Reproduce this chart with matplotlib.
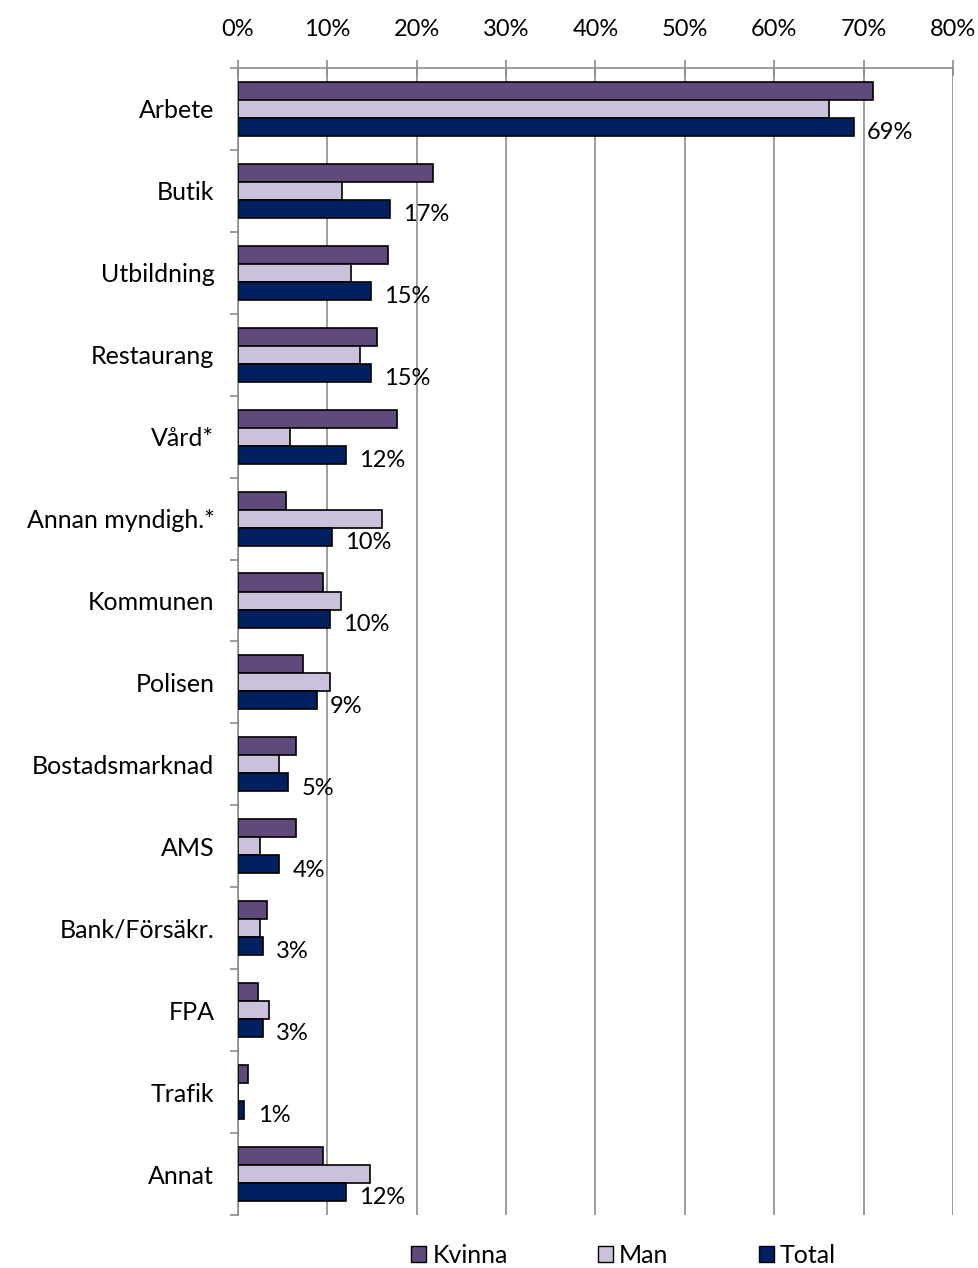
import numpy as np
import matplotlib.pyplot as plt
from matplotlib.patches import Patch
from matplotlib.ticker import FuncFormatter

plt.rcParams['font.family'] = ['Lato', 'DejaVu Sans']

categories = ['Arbete', 'Butik', 'Utbildning', 'Restaurang', 'Vård*', 'Annan myndigh.*',
              'Kommunen', 'Polisen', 'Bostadsmarknad', 'AMS', 'Bank/Försäkr.', 'FPA',
              'Trafik', 'Annat']
kvinna = [71.0, 21.8, 16.8, 15.6, 17.8, 5.4, 9.5, 7.3, 6.5, 6.5, 3.2, 2.2, 1.1, 9.5]
man = [66.1, 11.6, 12.6, 13.7, 5.8, 16.1, 11.5, 10.3, 4.6, 2.5, 2.5, 3.5, 0.0, 14.8]
total = [68.9, 17.0, 14.9, 14.9, 12.1, 10.5, 10.3, 8.8, 5.6, 4.6, 2.8, 2.8, 0.7, 12.1]
total_labels = ['69%', '17%', '15%', '15%', '12%', '10%', '10%', '9%', '5%', '4%',
                '3%', '3%', '1%', '12%']

c_kvinna = '#604A7B'
c_man = '#CCC1DA'
c_total = '#002060'
grid_c = '#8C8C8C'

fig = plt.figure(figsize=(9.79, 12.68), dpi=100)
ax = fig.add_axes([0.243, 0.0418, 0.7305, 0.9046])

y = np.arange(len(categories))
h = 0.22
ax.barh(y - h, kvinna, height=h, color=c_kvinna, edgecolor='black', linewidth=1.2, zorder=3)
ax.barh(y, man, height=h, color=c_man, edgecolor='black', linewidth=1.2, zorder=3)
ax.barh(y + h, total, height=h, color=c_total, edgecolor='black', linewidth=1.2, zorder=3)

for yi, v, lab in zip(y, total, total_labels):
    ax.text(v + 1.5, yi + h + 0.07, lab, ha='left', va='center', fontsize=17, zorder=4)

ax.set_xlim(0, 80)
ax.set_ylim(len(categories) - 0.5, -0.5)
ax.set_xticks(np.arange(0, 81, 10))
ax.xaxis.set_major_formatter(FuncFormatter(lambda v, p: f'{v:.0f}%'))
ax.xaxis.tick_top()
ax.tick_params(axis='x', direction='inout', length=12, width=1.2, color=grid_c,
               labelsize=17, pad=14)
ax.grid(axis='x', color=grid_c, linewidth=1.2, zorder=0)

ax.set_yticks(y)
ax.set_yticklabels(categories, fontsize=18)
ax.set_yticks(np.arange(-0.5, len(categories) + 0.5, 1), minor=True)
ax.tick_params(axis='y', which='major', length=0, pad=17)
ax.tick_params(axis='y', which='minor', length=6, width=1.2, color=grid_c)

for s in ['right', 'bottom']:
    ax.spines[s].set_visible(False)
for s in ['top', 'left']:
    ax.spines[s].set_color(grid_c)
    ax.spines[s].set_linewidth(1.2)

handles = [Patch(facecolor=c_kvinna, edgecolor='black', label='Kvinna'),
           Patch(facecolor=c_man, edgecolor='black', label='Man'),
           Patch(facecolor=c_total, edgecolor='black', label='Total')]
fig.legend(handles=handles, loc='center', bbox_to_anchor=(0.637, 0.01), ncol=3,
           frameon=False, fontsize=18, handlelength=0.6, handleheight=0.6,
           handletextpad=0.25, columnspacing=3.6)

fig.savefig('out.png', dpi=100)
